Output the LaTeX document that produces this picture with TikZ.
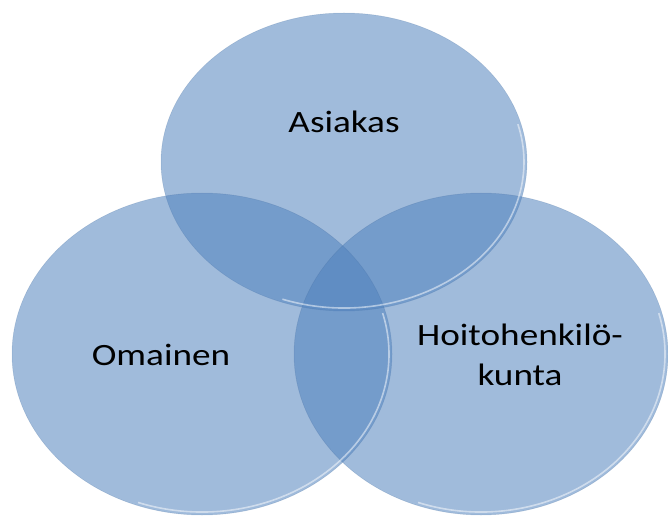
\documentclass[tikz,border=0pt]{standalone}
\usepackage{fontspec}
\setmainfont{Carlito}
\usepackage{tikz}
\usetikzlibrary{calc}
\definecolor{vennblue}{RGB}{79,129,189}
\tikzset{
	venn/.style={fill=vennblue, fill opacity=0.54, draw=vennblue!80!black, draw opacity=0.12, line width=0.5pt},
	rim/.style={draw=white, draw opacity=0.5, line width=1.6pt},
	label/.style={font=\fontsize{31}{40}\selectfont, align=center, xscale=1.2, transform shape, text=black}
}

\begin{document}
\begin{tikzpicture}[x=1pt,y=1pt]
	\useasboundingbox (0,0) rectangle (668,517);
	
	\coordinate (asiakasC) at (344,355);
	\coordinate (omainenC) at (202,163);
	\coordinate (hoitoC) at (481,163);
	
	\fill[venn] (asiakasC) ellipse [x radius=183, y radius=149];
	\fill[venn] (omainenC) ellipse [x radius=190, y radius=161];
	\fill[venn] (hoitoC) ellipse [x radius=187, y radius=161];
	\draw[venn, fill=none] (asiakasC) ellipse [x radius=183, y radius=149];
	\draw[venn, fill=none] (omainenC) ellipse [x radius=190, y radius=161];
	\draw[venn, fill=none] (hoitoC) ellipse [x radius=187, y radius=161];
	
	% light rims on the lower right
	\draw[rim] ($(asiakasC)+(-110:180 and 146)$) arc[start angle=-110, end angle=15, x radius=180, y radius=146];
	\draw[rim] ($(omainenC)+(-110:187 and 158)$) arc[start angle=-110, end angle=15, x radius=187, y radius=158];
	\draw[rim] ($(hoitoC)+(-110:184 and 158)$) arc[start angle=-110, end angle=15, x radius=184, y radius=158];
	
	\node[label] (asiakas) at (344,395) {Asiakas};
	\node[label] (omainen) at (161,162) {Omainen};
	\node[label] (hoito) at (520,162) {Hoitohenkilö-\\kunta};
\end{tikzpicture}
\end{document}
